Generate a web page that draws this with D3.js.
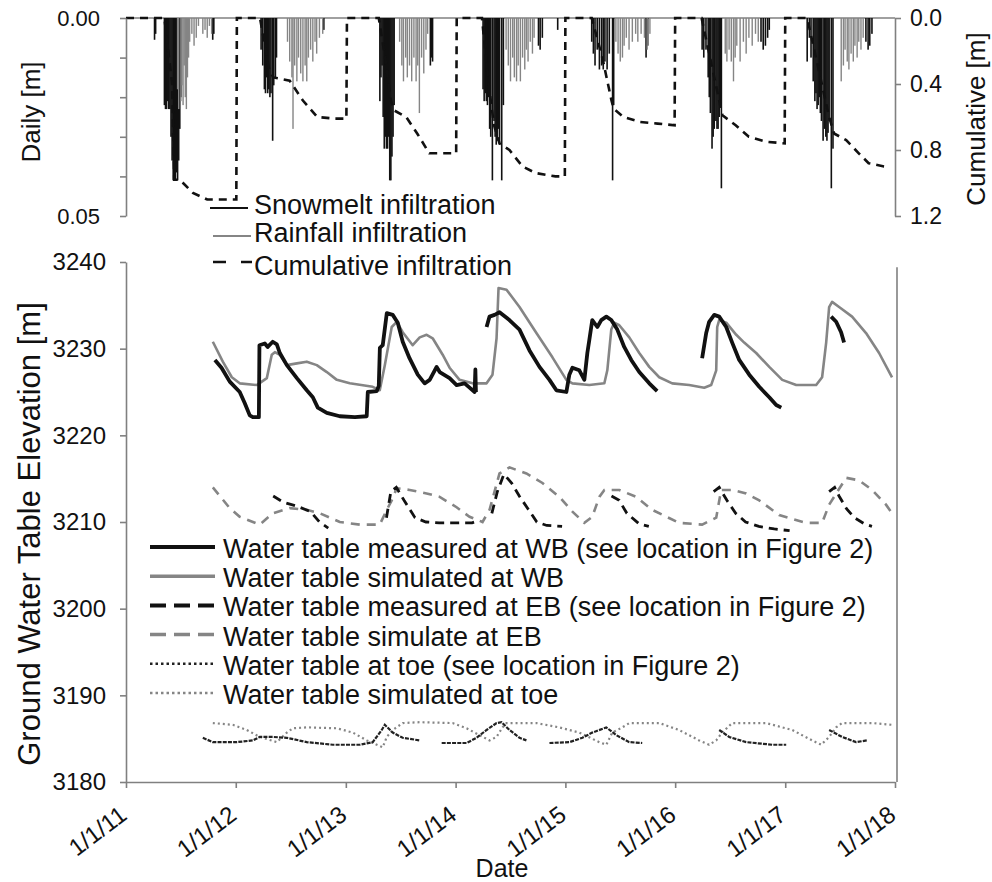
<!DOCTYPE html>
<html><head><meta charset="utf-8">
<script src="https://cdn.jsdelivr.net/npm/d3@7"></script>
<style>
body{margin:0;background:#fff}
text{font-family:Arial,"Liberation Sans",sans-serif;fill:#111}
</style>
</head><body>
<svg id="chart" width="992" height="882"></svg>
<script>
// ---------- DATA (dates as decimal years) ----------
const tickYears = [2011,2012,2013,2014,2015,2016,2017,2018];
const tickLabels = ["1/1/11","1/1/12","1/1/13","1/1/14","1/1/15","1/1/16","1/1/17","1/1/18"];
const dailyTicks = [0,0.05];
const dailyMinor = [0.01,0.02,0.03,0.04];
const cumTicks = [0,0.4,0.8,1.2];
const gwTicks = [3180,3190,3200,3210,3220,3230,3240];

// daily snowmelt infiltration [m]
const snowmelt = [
[2011.26,0.0055],[2011.27,0.004],
[2011.35,0.022],[2011.36,0.023],[2011.37,0.023],[2011.38,0.021],[2011.39,0.023],[2011.40,0.023],[2011.41,0.030],[2011.42,0.036],[2011.43,0.041],[2011.44,0.040],[2011.45,0.041],[2011.46,0.039],[2011.47,0.041],[2011.48,0.036],[2011.49,0.028],[2011.50,0.020],
[2011.79,0.0055],[2011.80,0.004],
[2012.23,0.008],[2012.245,0.012],[2012.26,0.018],[2012.27,0.019],[2012.28,0.015],[2012.29,0.019],[2012.30,0.018],[2012.31,0.020],[2012.32,0.019],[2012.335,0.031],[2012.345,0.017],[2012.36,0.015],[2012.37,0.010],[2012.80,0.003],
[2013.31,0.021],[2013.32,0.015],[2013.33,0.012],[2013.34,0.025],[2013.35,0.033],[2013.36,0.030],[2013.37,0.033],[2013.38,0.033],[2013.39,0.030],[2013.40,0.041],[2013.41,0.041],[2013.42,0.035],[2013.43,0.030],[2013.44,0.022],[2013.77,0.012],[2013.78,0.010],[2013.79,0.011],
[2014.25,0.018],[2014.26,0.021],[2014.27,0.019],[2014.28,0.021],[2014.29,0.022],[2014.30,0.020],[2014.31,0.028],[2014.32,0.030],[2014.335,0.041],[2014.35,0.026],[2014.36,0.030],[2014.37,0.032],[2014.38,0.031],[2014.39,0.028],[2014.40,0.032],[2014.42,0.041],[2014.435,0.022],
[2014.755,0.007],[2014.77,0.008],[2014.79,0.005],[2014.93,0.003],
[2015.24,0.006],[2015.255,0.009],[2015.27,0.012],[2015.29,0.008],[2015.31,0.013],[2015.33,0.012],[2015.345,0.013],[2015.36,0.011],[2015.38,0.013],[2015.40,0.009],[2015.43,0.041],[2015.44,0.022],[2015.735,0.010],[2015.75,0.007],
[2016.245,0.008],[2016.26,0.010],[2016.28,0.008],[2016.30,0.015],[2016.31,0.020],[2016.32,0.024],[2016.335,0.033],[2016.345,0.030],[2016.355,0.028],[2016.37,0.026],[2016.38,0.028],[2016.39,0.028],[2016.40,0.025],[2016.41,0.022],[2016.42,0.043],
[2016.78,0.006],[2016.80,0.008],[2016.82,0.007],[2016.84,0.005],[2016.855,0.003],
[2017.20,0.011],[2017.22,0.005],[2017.235,0.010],[2017.255,0.016],[2017.27,0.021],[2017.28,0.019],[2017.29,0.023],[2017.30,0.022],[2017.31,0.020],[2017.32,0.024],[2017.33,0.026],[2017.345,0.031],[2017.36,0.028],[2017.37,0.030],[2017.38,0.031],[2017.39,0.029],[2017.40,0.026],[2017.42,0.043],[2017.435,0.033],
[2017.735,0.006],[2017.755,0.008],[2017.77,0.007],[2017.79,0.004]
];

// daily rainfall infiltration [m]
const rainfall = [
[2011.47,0.018],[2011.48,0.023],[2011.50,0.021],[2011.51,0.017],[2011.52,0.022],[2011.53,0.012],[2011.54,0.020],[2011.55,0.023],[2011.56,0.015],[2011.57,0.010],[2011.58,0.006],[2011.60,0.004],[2011.62,0.007],[2011.64,0.005],[2011.66,0.002],[2011.70,0.004],[2011.72,0.003],[2011.74,0.005],[2011.76,0.002],[2011.78,0.004],
[2012.47,0.006],[2012.49,0.011],[2012.51,0.015],[2012.52,0.028],[2012.535,0.012],[2012.555,0.016],[2012.57,0.010],[2012.59,0.014],[2012.61,0.016],[2012.63,0.012],[2012.645,0.016],[2012.66,0.010],[2012.68,0.008],[2012.70,0.011],[2012.72,0.006],[2012.735,0.009],[2012.76,0.005],[2012.79,0.004],
[2013.49,0.006],[2013.51,0.012],[2013.525,0.016],[2013.545,0.010],[2013.56,0.015],[2013.58,0.012],[2013.60,0.016],[2013.62,0.010],[2013.64,0.016],[2013.655,0.012],[2013.67,0.024],[2013.69,0.010],[2013.71,0.014],[2013.73,0.008],[2013.745,0.004],
[2014.46,0.008],[2014.48,0.012],[2014.50,0.016],[2014.52,0.010],[2014.535,0.015],[2014.555,0.016],[2014.57,0.012],[2014.59,0.016],[2014.61,0.010],[2014.63,0.013],[2014.645,0.008],[2014.66,0.011],[2014.68,0.006],[2014.70,0.009],[2014.715,0.005],
[2015.46,0.006],[2015.48,0.009],[2015.50,0.011],[2015.52,0.010],[2015.535,0.007],[2015.555,0.005],[2015.58,0.008],[2015.61,0.006],[2015.64,0.004],[2015.66,0.006],[2015.69,0.004],[2015.72,0.005],[2015.745,0.008],[2015.77,0.004],
[2016.455,0.009],[2016.47,0.011],[2016.49,0.008],[2016.51,0.011],[2016.53,0.016],[2016.545,0.010],[2016.56,0.007],[2016.59,0.011],[2016.62,0.006],[2016.645,0.009],[2016.67,0.005],[2016.70,0.007],[2016.73,0.004],[2016.755,0.006],
[2017.51,0.016],[2017.53,0.012],[2017.545,0.008],[2017.565,0.011],[2017.58,0.013],[2017.60,0.009],[2017.62,0.011],[2017.635,0.007],[2017.655,0.010],[2017.67,0.006],[2017.69,0.008],[2017.71,0.005]
];

// cumulative infiltration [m] (resets each 1 Jan)
const cumulative = [
[2011.00,0],[2011.35,0],[2011.42,0.40],[2011.43,0.70],[2011.44,0.98],[2011.49,0.98],[2011.61,1.06],[2011.74,1.10],[2011.97,1.10],[2012.005,1.10],[2012.01,0],
[2012.22,0],[2012.26,0.15],[2012.30,0.30],[2012.34,0.36],[2012.49,0.38],[2012.61,0.50],[2012.74,0.60],[2012.90,0.61],[2013.005,0.61],[2013.01,0],
[2013.30,0],[2013.36,0.25],[2013.41,0.50],[2013.44,0.56],[2013.55,0.60],[2013.65,0.70],[2013.76,0.82],[2013.97,0.82],[2014.005,0.82],[2014.01,0],
[2014.24,0],[2014.30,0.40],[2014.35,0.65],[2014.40,0.76],[2014.49,0.80],[2014.61,0.90],[2014.73,0.94],[2014.91,0.96],[2014.995,0.96],[2015.00,0],
[2015.24,0],[2015.34,0.25],[2015.42,0.50],[2015.44,0.55],[2015.53,0.60],[2015.68,0.63],[2015.84,0.64],[2015.995,0.65],[2016.00,0],
[2016.24,0],[2016.32,0.25],[2016.40,0.50],[2016.43,0.59],[2016.55,0.65],[2016.67,0.72],[2016.83,0.75],[2016.995,0.76],[2017.00,0],
[2017.20,0],[2017.30,0.30],[2017.40,0.60],[2017.445,0.70],[2017.555,0.74],[2017.67,0.82],[2017.76,0.88],[2017.90,0.90],[2017.92,0.90]
];

// water table measured at WB [m] (segments)
const wbMeasured = [
 [[2011.81,3228.7],[2011.87,3227.8],[2011.945,3226.2],[2012.036,3225.0],[2012.082,3223.7],[2012.127,3222.3],[2012.155,3222.1],[2012.20,3222.1],[2012.21,3222.1],[2012.215,3230.4],[2012.264,3230.6],[2012.29,3230.2],[2012.336,3230.8],[2012.373,3230.5],[2012.40,3229.5],[2012.464,3228.1],[2012.555,3226.6],[2012.645,3225.2],[2012.70,3224.4],[2012.745,3223.2],[2012.827,3222.6],[2012.945,3222.2],[2013.082,3222.1],[2013.19,3222.2],[2013.20,3225.0],[2013.282,3225.1],[2013.30,3225.7],[2013.31,3230.1],[2013.336,3230.4],[2013.373,3234.1],[2013.427,3233.9],[2013.473,3233.0],[2013.518,3230.8],[2013.58,3228.9],[2013.655,3227.0],[2013.718,3226.0],[2013.764,3226.4],[2013.827,3227.9],[2013.855,3227.3],[2013.945,3226.6],[2014.009,3225.8],[2014.082,3226.0],[2014.127,3225.5],[2014.173,3225.0],[2014.18,3227.6],[2014.185,3225.0]],
 [[2014.282,3232.5],[2014.309,3233.7],[2014.355,3233.9],[2014.40,3234.2],[2014.49,3233.3],[2014.582,3232.2],[2014.673,3229.8],[2014.764,3227.9],[2014.855,3226.4],[2014.918,3225.2],[2015.009,3225.0],[2015.036,3227.0],[2015.064,3227.8],[2015.127,3227.5],[2015.173,3226.4],[2015.20,3229.5],[2015.218,3231.0],[2015.245,3233.3],[2015.291,3232.5],[2015.327,3233.3],[2015.373,3233.7],[2015.418,3233.3],[2015.473,3232.2],[2015.536,3230.2],[2015.60,3228.7],[2015.673,3227.3],[2015.764,3226.0],[2015.836,3225.1]],
 [[2016.245,3228.9],[2016.282,3231.8],[2016.309,3233.1],[2016.355,3233.9],[2016.40,3233.7],[2016.464,3232.5],[2016.518,3230.7],[2016.582,3228.7],[2016.673,3227.0],[2016.764,3225.6],[2016.855,3224.4],[2016.918,3223.5],[2016.964,3223.2]],
 [[2017.418,3233.7],[2017.464,3233.1],[2017.509,3231.9],[2017.536,3230.7]]
];

// water table simulated at WB [m]
const wbSimulated = [
[2011.791,3230.8],[2011.882,3228.5],[2011.964,3226.7],[2012.036,3226.0],[2012.191,3225.8],[2012.282,3226.6],[2012.327,3229.3],[2012.355,3229.6],[2012.40,3229.3],[2012.464,3228.1],[2012.555,3228.3],[2012.645,3228.5],[2012.736,3228.1],[2012.827,3227.3],[2012.918,3226.4],[2013.036,3226.0],[2013.245,3225.6],[2013.309,3225.2],[2013.355,3228.1],[2013.418,3232.5],[2013.464,3233.1],[2013.518,3231.9],[2013.609,3230.4],[2013.673,3231.3],[2013.736,3231.6],[2013.791,3231.2],[2013.882,3229.3],[2013.945,3227.8],[2014.036,3226.4],[2014.155,3226.0],[2014.282,3226.0],[2014.336,3227.0],[2014.373,3231.2],[2014.391,3237.0],[2014.464,3236.8],[2014.582,3234.8],[2014.736,3231.8],[2014.882,3229.0],[2015.009,3226.4],[2015.064,3226.0],[2015.218,3225.8],[2015.355,3226.0],[2015.382,3227.5],[2015.418,3232.2],[2015.445,3233.0],[2015.491,3232.7],[2015.582,3231.3],[2015.673,3229.5],[2015.764,3227.9],[2015.855,3226.7],[2015.973,3226.0],[2016.127,3225.8],[2016.264,3225.5],[2016.327,3225.8],[2016.373,3227.5],[2016.382,3232.5],[2016.40,3233.3],[2016.464,3233.0],[2016.555,3231.6],[2016.627,3230.7],[2016.736,3229.5],[2016.855,3227.9],[2016.973,3226.4],[2017.10,3225.8],[2017.282,3225.8],[2017.336,3226.7],[2017.373,3230.7],[2017.40,3234.8],[2017.427,3235.4],[2017.491,3234.8],[2017.609,3233.7],[2017.736,3231.8],[2017.855,3229.5],[2017.973,3226.7]
];

// water table measured at EB [m] (segments)
const ebMeasured = [
 [[2012.34,3213.0],[2012.43,3212.3],[2012.56,3211.8],[2012.68,3211.2],[2012.76,3210.0],[2012.84,3209.3]],
 [[2013.37,3210.5],[2013.41,3213.5],[2013.46,3214.0],[2013.53,3212.5],[2013.63,3210.5],[2013.73,3210.0],[2013.85,3209.9],[2014.15,3209.9],[2014.22,3210.2]],
 [[2014.33,3211.0],[2014.38,3213.5],[2014.44,3215.5],[2014.51,3214.5],[2014.58,3213.0],[2014.66,3211.5],[2014.74,3210.0],[2014.83,3209.6],[2014.97,3209.5]],
 [[2015.42,3213.0],[2015.49,3212.5],[2015.56,3211.0],[2015.67,3209.8],[2015.76,3209.5]],
 [[2016.35,3213.5],[2016.40,3214.0],[2016.47,3212.5],[2016.55,3211.0],[2016.64,3210.0],[2016.76,3209.5],[2016.90,3209.2],[2017.04,3209.0]],
 [[2017.40,3213.5],[2017.45,3214.0],[2017.49,3213.0],[2017.56,3211.5],[2017.63,3210.5],[2017.72,3209.8],[2017.79,3209.5]]
];

// water table simulated at EB [m]
const ebSimulated = [
[2011.791,3214.0],[2011.945,3211.6],[2012.036,3210.6],[2012.218,3209.7],[2012.336,3211.0],[2012.491,3211.6],[2012.645,3211.4],[2012.764,3211.0],[2012.945,3210.0],[2013.127,3209.7],[2013.309,3209.7],[2013.373,3211.4],[2013.418,3212.5],[2013.464,3213.9],[2013.582,3213.7],[2013.736,3213.3],[2013.855,3212.9],[2014.009,3211.7],[2014.127,3210.6],[2014.245,3210.0],[2014.309,3211.4],[2014.40,3215.6],[2014.491,3216.3],[2014.645,3215.6],[2014.791,3214.5],[2014.945,3212.9],[2015.064,3211.2],[2015.173,3209.9],[2015.245,3210.6],[2015.309,3212.9],[2015.355,3213.7],[2015.491,3213.7],[2015.645,3212.9],[2015.791,3211.4],[2016.036,3209.9],[2016.245,3209.7],[2016.373,3210.5],[2016.418,3213.7],[2016.518,3213.7],[2016.645,3213.3],[2016.764,3212.5],[2016.945,3210.8],[2017.191,3209.9],[2017.336,3209.9],[2017.40,3212.0],[2017.555,3215.1],[2017.673,3214.8],[2017.791,3213.7],[2017.918,3212.0],[2017.973,3211.0]
];

// water table at toe, measured [m] (segments)
const toeMeasured = [
 [[2011.70,3185.1],[2011.791,3184.6],[2012.009,3184.6],[2012.155,3184.8],[2012.218,3185.2],[2012.336,3185.2],[2012.464,3185.1],[2012.645,3184.6],[2012.882,3184.3],[2013.127,3184.3],[2013.245,3184.6],[2013.327,3186.0],[2013.355,3186.6],[2013.427,3185.7],[2013.518,3185.1],[2013.673,3184.8]],
 [[2013.873,3184.5],[2014.10,3184.5],[2014.191,3185.1],[2014.282,3186.0],[2014.373,3186.8],[2014.418,3186.9],[2014.491,3186.0],[2014.582,3185.1],[2014.645,3184.8]],
 [[2014.855,3184.5],[2015.036,3184.6],[2015.155,3185.1],[2015.245,3185.7],[2015.373,3186.3],[2015.464,3185.4],[2015.582,3184.6],[2015.70,3184.5]],
 [[2016.40,3186.0],[2016.491,3185.2],[2016.645,3184.6],[2016.882,3184.3],[2017.009,3184.3]],
 [[2017.40,3186.0],[2017.518,3185.2],[2017.645,3184.6],[2017.745,3184.8]]
];

// water table simulated at toe [m]
const toeSimulated = [
[2011.791,3186.8],[2011.973,3186.6],[2012.10,3186.0],[2012.218,3185.2],[2012.373,3184.6],[2012.464,3185.7],[2012.518,3186.2],[2012.645,3186.3],[2012.918,3186.2],[2013.064,3185.7],[2013.191,3184.8],[2013.282,3184.3],[2013.336,3184.0],[2013.373,3185.2],[2013.427,3186.0],[2013.518,3186.8],[2013.673,3186.9],[2013.973,3186.8],[2014.10,3186.2],[2014.218,3185.4],[2014.309,3184.8],[2014.373,3185.2],[2014.427,3186.3],[2014.464,3186.8],[2014.736,3186.8],[2014.945,3186.3],[2015.127,3185.7],[2015.309,3184.6],[2015.373,3184.3],[2015.427,3185.7],[2015.518,3186.3],[2015.582,3186.8],[2015.855,3186.8],[2016.036,3186.0],[2016.218,3184.8],[2016.309,3184.3],[2016.373,3184.8],[2016.427,3185.7],[2016.518,3186.8],[2016.827,3186.8],[2017.064,3186.0],[2017.245,3184.8],[2017.327,3184.3],[2017.40,3185.2],[2017.464,3186.3],[2017.518,3186.8],[2017.791,3186.8],[2017.973,3186.6]
];

const topLegend = ["Snowmelt infiltration","Rainfall infiltration","Cumulative infiltration"];
const bottomLegend = [
 "Water table measured at WB (see location in Figure 2)",
 "Water table simulated at WB",
 "Water table measured at EB (see location in Figure 2)",
 "Water table simulate at EB",
 "Water table at toe (see location in Figure 2)",
 "Water table simulated at toe"
];

// ---------- DRAWING ----------
(function(){
const BLACK = "#111", GRAY = "#858585", AXIS = "#808080";
function toDate(y){ const yr=Math.floor(y); const a=new Date(yr,0,1), b=new Date(yr+1,0,1); return new Date(+a+(y-yr)*(b-a)); }

const svg = d3.select("#chart");
svg.append("rect").attr("width",992).attr("height",882).attr("fill","#fff");

const x = d3.scaleTime().domain([new Date(2011,0,1), new Date(2018,0,1)]).range([126, 895]);
const yD = d3.scaleLinear().domain([0,0.05]).range([18,216]);
const yC = d3.scaleLinear().domain([0,1.2]).range([18,216]);
const yW = d3.scaleLinear().domain([3180,3240]).range([782,262]);

function styleAxis(g, fs){
  g.select(".domain").attr("stroke",AXIS).attr("stroke-width",1.6);
  g.selectAll(".tick line").attr("stroke",AXIS).attr("stroke-width",1.6);
  g.selectAll(".tick text").attr("font-size",fs).attr("fill","#111").style("font-family","Arial, 'Liberation Sans', sans-serif");
}

// ----- top panel -----
const gTop = svg.append("g");
gTop.append("line").attr("x1",x.range()[0]).attr("x2",x.range()[1]).attr("y1",yD(0)).attr("y2",yD(0)).attr("stroke",AXIS).attr("stroke-width",1.6);

gTop.append("g").selectAll("rect").data(snowmelt).join("rect")
  .attr("x",d=>x(toDate(d[0]))-0.8).attr("width",1.6)
  .attr("y",yD(0)).attr("height",d=>yD(d[1])-yD(0)).attr("fill",BLACK);
gTop.append("g").selectAll("rect").data(rainfall).join("rect")
  .attr("x",d=>x(toDate(d[0]))-0.7).attr("width",1.4)
  .attr("y",yD(0)).attr("height",d=>yD(d[1])-yD(0)).attr("fill",GRAY);

gTop.append("path").datum(cumulative)
  .attr("d",d3.line().x(d=>x(toDate(d[0]))).y(d=>yC(d[1])))
  .attr("fill","none").attr("stroke",BLACK).attr("stroke-width",2.6).attr("stroke-dasharray","8,6");

const gDL = gTop.append("g").attr("transform",`translate(${x.range()[0]},0)`)
  .call(d3.axisLeft(yD).tickValues(dailyTicks).tickFormat(d3.format(".2f")).tickSize(6).tickSizeOuter(0).tickPadding(20));
styleAxis(gDL,22);
const gDm = gTop.append("g").attr("transform",`translate(${x.range()[0]},0)`)
  .call(d3.axisLeft(yD).tickValues(dailyMinor).tickFormat("").tickSize(6).tickSizeOuter(0));
styleAxis(gDm,22); gDm.select(".domain").remove();
const gCR = gTop.append("g").attr("transform",`translate(${x.range()[1]},0)`)
  .call(d3.axisRight(yC).tickValues(cumTicks).tickFormat(d3.format(".1f")).tickSize(6).tickSizeOuter(0).tickPadding(9));
styleAxis(gCR,23);

gTop.append("text").attr("transform","translate(40,112) rotate(-90)").attr("text-anchor","middle").attr("font-size",26).text("Daily [m]");
gTop.append("text").attr("transform","translate(985,119) rotate(-90)").attr("text-anchor","middle").attr("font-size",26).text("Cumulative [m]");

const tl = gTop.append("g");
const tlRows = [{ly:208, ty:214},{ly:236, ty:242},{ly:262, ty:275}];
tl.append("line").attr("x1",210).attr("x2",248).attr("y1",tlRows[0].ly).attr("y2",tlRows[0].ly).attr("stroke",BLACK).attr("stroke-width",2);
tl.append("line").attr("x1",213).attr("x2",251).attr("y1",tlRows[1].ly).attr("y2",tlRows[1].ly).attr("stroke",GRAY).attr("stroke-width",2);
tl.append("line").attr("x1",213).attr("x2",252).attr("y1",tlRows[2].ly).attr("y2",tlRows[2].ly).attr("stroke",BLACK).attr("stroke-width",2.4).attr("stroke-dasharray","13,15");
tl.selectAll("text").data(topLegend).join("text").attr("x",254).attr("y",(d,i)=>tlRows[i].ty).attr("font-size",27).text(d=>d);

// ----- bottom panel -----
const gBot = svg.append("g");
gBot.append("line").attr("x1",x.range()[1]+2).attr("x2",x.range()[1]+2).attr("y1",yW(3239.4)).attr("y2",yW(3180)).attr("stroke",AXIS).attr("stroke-width",1.6);

const line = d3.line().x(d=>x(toDate(d[0]))).y(d=>yW(d[1]));

gBot.append("path").datum(toeSimulated).attr("d",line).attr("fill","none").attr("stroke",GRAY).attr("stroke-width",2.2).attr("stroke-dasharray","2,3");
toeMeasured.forEach(s=>gBot.append("path").datum(s).attr("d",line).attr("fill","none").attr("stroke","#222").attr("stroke-width",2.2).attr("stroke-dasharray","4,1.2"));
gBot.append("path").datum(ebSimulated).attr("d",line).attr("fill","none").attr("stroke",GRAY).attr("stroke-width",2.6).attr("stroke-dasharray","9,7");
ebMeasured.forEach(s=>gBot.append("path").datum(s).attr("d",line).attr("fill","none").attr("stroke",BLACK).attr("stroke-width",2.8).attr("stroke-dasharray","9,6"));
gBot.append("path").datum(wbSimulated).attr("d",line).attr("fill","none").attr("stroke",GRAY).attr("stroke-width",2.6).attr("stroke-linejoin","round");
wbMeasured.forEach(s=>gBot.append("path").datum(s).attr("d",line).attr("fill","none").attr("stroke",BLACK).attr("stroke-width",3.8).attr("stroke-linejoin","round"));

const gWL = gBot.append("g").attr("transform",`translate(${x.range()[0]},0)`)
  .call(d3.axisLeft(yW).tickValues(gwTicks).tickFormat(d3.format("d")).tickSize(6).tickSizeOuter(0).tickPadding(14));
styleAxis(gWL,24);
const gX = gBot.append("g").attr("transform",`translate(0,${yW(3180)})`)
  .call(d3.axisBottom(x).tickValues(tickYears.map(y=>new Date(y,0,1))).tickFormat((d,i)=>tickLabels[i]).tickSize(6).tickSizeOuter(0));
styleAxis(gX,24);
gX.selectAll(".tick text").attr("text-anchor","end").attr("x",0).attr("y",0).attr("dy",0)
  .attr("transform","translate(2,36) rotate(-37)");

gBot.append("text").attr("x",502).attr("y",877).attr("text-anchor","middle").attr("font-size",25).text("Date");
gBot.append("text").attr("transform","translate(40,534) rotate(-90)").attr("text-anchor","middle").attr("font-size",31).text("Ground Water Table Elevation [m]");

const bl = gBot.append("g");
const blStyles = [
 {c:BLACK,w:4,da:null},{c:GRAY,w:3.5,da:null},
 {c:BLACK,w:4,da:"16,8"},{c:GRAY,w:3.5,da:"16,8"},
 {c:"#222",w:2.4,da:"2.5,3"},{c:GRAY,w:2.4,da:"2.5,3"}
];
const blY0 = 547, blDY = 29.2;
bottomLegend.forEach((t,i)=>{
  const yy = blY0 + i*blDY;
  const st = blStyles[i];
  const l = bl.append("line").attr("x1",150).attr("x2",215).attr("y1",yy).attr("y2",yy).attr("stroke",st.c).attr("stroke-width",st.w);
  if(st.da) l.attr("stroke-dasharray",st.da);
  bl.append("text").attr("x",223).attr("y",yy+11).attr("font-size",27).text(t);
});
})();
</script>
</body></html>
